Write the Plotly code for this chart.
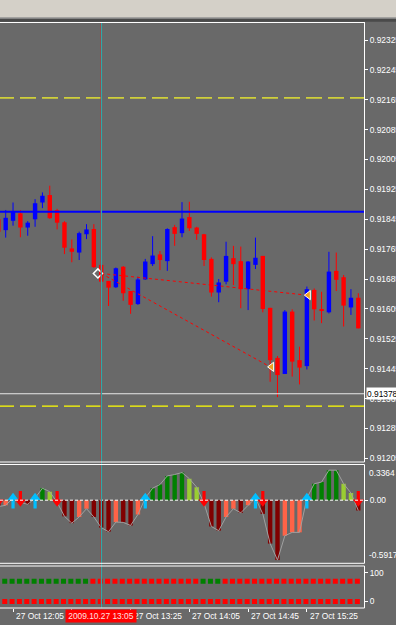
import plotly.graph_objects as go

W, H = 396, 625
BG = "#696969"
FONT = "Liberation Sans, Arial, sans-serif"

# ---------------- data ----------------
times = ["11:55", "12:00", "12:05", "12:10", "12:15", "12:20", "12:25", "12:30", "12:35", "12:40",
         "12:45", "12:50", "12:55", "13:00", "13:05", "13:10", "13:15", "13:20", "13:25", "13:30",
         "13:35", "13:40", "13:45", "13:50", "13:55", "14:00", "14:05", "14:10", "14:15", "14:20",
         "14:25", "14:30", "14:35", "14:40", "14:45", "14:50", "14:55", "15:00", "15:05", "15:10",
         "15:15", "15:20", "15:25", "15:30", "15:35", "15:40", "15:45", "15:50", "15:55", "16:00"]

opens = [0.91845, 0.91816, 0.91841, 0.91861, 0.91823, 0.91845, 0.91890, 0.91910, 0.91870, 0.91837,
         0.91767, 0.91756, 0.91805, 0.91819, 0.91723, 0.91680, 0.91663, 0.91718, 0.91653, 0.91618,
         0.91684, 0.91725, 0.91751, 0.91733, 0.91824, 0.91808, 0.91851, 0.91823, 0.91805, 0.91739,
         0.91649, 0.91678, 0.91741, 0.91733, 0.91658, 0.91723, 0.91747, 0.91608, 0.91474, 0.91431,
         0.91598, 0.91468, 0.91452, 0.91656, 0.91602, 0.91596, 0.91707, 0.91690, 0.91609, 0.91635]
highs = [0.91849, 0.91870, 0.91890, 0.91870, 0.91840, 0.91899, 0.91917, 0.91935, 0.91873, 0.91840,
         0.91791, 0.91812, 0.91832, 0.91832, 0.91723, 0.91680, 0.91716, 0.91720, 0.91653, 0.91691,
         0.91739, 0.91800, 0.91760, 0.91821, 0.91830, 0.91891, 0.91892, 0.91825, 0.91806, 0.91743,
         0.91685, 0.91785, 0.91774, 0.91772, 0.91733, 0.91796, 0.91747, 0.91608, 0.91479, 0.91602,
         0.91604, 0.91504, 0.91665, 0.91660, 0.91651, 0.91758, 0.91756, 0.91696, 0.91658, 0.91647]
lows = [0.91808, 0.91796, 0.91828, 0.91797, 0.91801, 0.91825, 0.91875, 0.91846, 0.91818, 0.91752,
        0.91730, 0.91736, 0.91792, 0.91715, 0.91678, 0.91613, 0.91661, 0.91627, 0.91592, 0.91616,
        0.91683, 0.91720, 0.91709, 0.91707, 0.91774, 0.91797, 0.91814, 0.91790, 0.91720, 0.91638,
        0.91623, 0.91671, 0.91669, 0.91607, 0.91602, 0.91712, 0.91596, 0.91410, 0.91369, 0.91431,
        0.91424, 0.91403, 0.91443, 0.91574, 0.91567, 0.91593, 0.91653, 0.91558, 0.91589, 0.91553]
closes = [0.91812, 0.91849, 0.91865, 0.91823, 0.91836, 0.91888, 0.91908, 0.91848, 0.91836, 0.91769,
          0.91758, 0.91808, 0.91818, 0.91717, 0.91678, 0.91662, 0.91714, 0.91647, 0.91616, 0.91684,
          0.91732, 0.91748, 0.91736, 0.91819, 0.91806, 0.91847, 0.91821, 0.91806, 0.91736, 0.91649,
          0.91676, 0.91747, 0.91725, 0.91658, 0.91732, 0.91742, 0.91605, 0.91468, 0.91428, 0.91598,
          0.91464, 0.91448, 0.91658, 0.91604, 0.91601, 0.91705, 0.91683, 0.91614, 0.91635, 0.91553]

hist_vals = [-0.060, -0.048, 0.020, -0.020, -0.039, 0.020, 0.113, 0.080, -0.020, -0.152,
             -0.216, -0.158, -0.080, -0.158, -0.258, -0.297, -0.206, -0.209, -0.238, -0.135,
             0.020, 0.113, 0.148, 0.229, 0.242, 0.261, 0.203, 0.123, -0.030, -0.248,
             -0.287, -0.158, -0.080, -0.119, -0.048, 0.020, -0.129, -0.409, -0.564, -0.335,
             -0.303, -0.303, 0.020, 0.155, 0.171, 0.283, 0.283, 0.155, 0.068, -0.097]
hist_state = list("MTGMMGGYMM" "MTTMMMTMMT" "GGGGGGYYMM" "MTTMTGMMMT" "TTGGGGGYYM")
hist_max, hist_min = 0.3364, -0.5917

arrows_up = ["12:05", "12:20", "13:35", "14:50", "15:25"]
arrows_down = ["11:55", "12:10", "12:35", "14:15", "14:55", "16:00"]

sig_top_state = list("G" * 13 + "R" * 15 + "G" * 3 + "R" * 19)
sig_bot_state = list("R" * 50)
sig_top_level, sig_bot_level = 70, 0

price_ticks = [0.92325, 0.92245, 0.92165, 0.92085, 0.92005, 0.91925, 0.91845, 0.91765,
               0.91685, 0.91605, 0.91525, 0.91445, 0.91365, 0.91285, 0.91205]
time_ticks = ["12:05", "12:45", "13:25", "14:05", "14:45", "15:25"]
date_prefix = "27 Oct "

level_yellow = [0.92170, 0.91345]
level_blue = 0.91865
level_white = 0.91378
vline_time = "13:05"
vline_label = "2009.10.27 13:05"

div_start = ("13:05", 0.91700)
div_ends = [("15:25", 0.91642), ("15:00", 0.91450)]

# ---------------- layout geometry (pixels) ----------------
PLOT_R = 364
MAIN = (22, 462)
HIST = (464.5, 563)
SIG = (566, 607.7)
x_range = [0.2246, 49.776]
main_range = [0.911953, 0.923732]
sig_range = [-21.7, 123.1]

pos = {t: i for i, t in enumerate(times)}
xs_all = [pos[t] for t in times]


def fx(px):
    return px / W


def fy(py):
    return 1 - py / H


hist_unit = (hist_max - hist_min) / (HIST[1] - HIST[0])  # value per pixel
main_unit = (main_range[1] - main_range[0]) / (MAIN[1] - MAIN[0])

fig = go.Figure()

# ---------- candles ----------
bull = [c > o for o, c in zip(opens, closes)]
for sel, col in ((True, "#0000FF"), (False, "#FF0000")):
    xs, ys = [], []
    for x, h, l, b in zip(xs_all, highs, lows, bull):
        if b == sel:
            xs += [x, x, None]
            ys += [l, h, None]
    fig.add_trace(go.Scatter(x=xs, y=ys, mode="lines", line=dict(color=col, width=1),
                             hoverinfo="skip", xaxis="x", yaxis="y"))

min_body = main_unit * 1.0
fig.add_trace(go.Bar(
    x=xs_all,
    base=[min(o, c) for o, c in zip(opens, closes)],
    y=[max(abs(c - o), min_body) for o, c in zip(opens, closes)],
    width=0.6,
    marker=dict(color=["#0000FF" if b else "#FF0000" for b in bull], line=dict(width=0)),
    xaxis="x", yaxis="y", hoverinfo="skip"))

# divergence lines
for t_end, p_end in div_ends:
    fig.add_trace(go.Scatter(x=[pos[div_start[0]], pos[t_end]], y=[div_start[1], p_end], mode="lines",
                             line=dict(color="#FF0000", width=1, dash="3px,3px"),
                             xaxis="x", yaxis="y", hoverinfo="skip"))
fig.add_trace(go.Scatter(x=[pos[div_start[0]] - 0.45], y=[div_start[1]], mode="markers",
                         marker=dict(symbol="diamond-open", size=7, color="white",
                                     line=dict(color="white", width=1.5)),
                         xaxis="x", yaxis="y", hoverinfo="skip"))
fig.add_trace(go.Scatter(x=[pos[t] + 0.2 for t, _ in div_ends], y=[p for _, p in div_ends],
                         mode="markers",
                         marker=dict(symbol="triangle-left", size=8, color="#F0A020",
                                     line=dict(color="white", width=1)),
                         xaxis="x", yaxis="y", hoverinfo="skip"))

# ---------- histogram ----------
cmap = {"G": "#008000", "Y": "#9ACD32", "M": "#800000", "T": "#FF6347"}
fig.add_trace(go.Bar(x=xs_all, y=hist_vals, width=0.6,
                     marker=dict(color=[cmap[s] for s in hist_state], line=dict(width=0)),
                     xaxis="x", yaxis="y2", hoverinfo="skip"))
fig.add_trace(go.Scatter(x=xs_all, y=hist_vals, mode="lines",
                         line=dict(color="#A0A0A0", width=1),
                         xaxis="x", yaxis="y2", hoverinfo="skip"))

# arrows (head + shaft), offsets in pixels around the zero line
up_x = [pos[t] for t in arrows_up]
dn_x = [pos[t] for t in arrows_down]
fig.add_trace(go.Scatter(x=up_x, y=[-3.0 * hist_unit] * len(up_x), mode="markers",
                         marker=dict(symbol="line-ns", size=7.5, line=dict(color="#00BFFF", width=3.2)),
                         xaxis="x", yaxis="y2", hoverinfo="skip"))
fig.add_trace(go.Scatter(x=up_x, y=[2.6 * hist_unit] * len(up_x), mode="markers",
                         marker=dict(symbol="triangle-up", size=9.5, color="#00BFFF", line=dict(width=0)),
                         xaxis="x", yaxis="y2", hoverinfo="skip"))
fig.add_trace(go.Scatter(x=dn_x, y=[4.0 * hist_unit] * len(dn_x), mode="markers",
                         marker=dict(symbol="line-ns", size=7.5, line=dict(color="#FF0000", width=3.2)),
                         xaxis="x", yaxis="y2", hoverinfo="skip"))
fig.add_trace(go.Scatter(x=dn_x, y=[-1.8 * hist_unit] * len(dn_x), mode="markers",
                         marker=dict(symbol="triangle-down", size=9.5, color="#FF0000", line=dict(width=0)),
                         xaxis="x", yaxis="y2", hoverinfo="skip"))

# ---------- signal squares ----------
smap = {"G": "#008000", "R": "#FF0000"}
for level, states in ((sig_top_level, sig_top_state), (sig_bot_level, sig_bot_state)):
    fig.add_trace(go.Scatter(x=[x - 0.13 for x in xs_all], y=[level] * len(xs_all),
                             mode="markers",
                             marker=dict(symbol="square", size=5, color=[smap[s] for s in states],
                                         line=dict(width=0)),
                             xaxis="x", yaxis="y3", hoverinfo="skip"))

# ---------- shapes ----------
shapes = []


def prect(x0, x1, y0, y1, color):
    shapes.append(dict(type="rect", xref="paper", yref="paper", x0=fx(x0), x1=fx(x1),
                       y0=fy(y1), y1=fy(y0), fillcolor=color, line=dict(width=0), layer="above"))


def hline_px(y, x0, x1, color="white", width=1):
    shapes.append(dict(type="line", xref="paper", yref="paper", x0=fx(x0), x1=fx(x1),
                       y0=fy(y), y1=fy(y), line=dict(color=color, width=width), layer="above"))


def vline_px(x, y0, y1, color="white", width=1):
    shapes.append(dict(type="line", xref="paper", yref="paper", x0=fx(x), x1=fx(x),
                       y0=fy(y0), y1=fy(y1), line=dict(color=color, width=width), layer="above"))


# horizontal level objects in the main window
shapes.append(dict(type="line", xref="paper", yref="y", x0=fx(-2), x1=fx(PLOT_R), y0=level_yellow[0],
                   y1=level_yellow[0], line=dict(color="#CFCF3A", width=1.6, dash="16px,6px"), layer="above"))
shapes.append(dict(type="line", xref="paper", yref="y", x0=fx(-2), x1=fx(PLOT_R), y0=level_yellow[1],
                   y1=level_yellow[1], line=dict(color="#FFFF00", width=1.2, dash="16px,6px"), layer="above"))
shapes.append(dict(type="line", xref="paper", yref="y", x0=0, x1=fx(PLOT_R), y0=level_blue,
                   y1=level_blue, line=dict(color="#0000FF", width=2), layer="above"))
shapes.append(dict(type="line", xref="paper", yref="y", x0=0, x1=fx(PLOT_R), y0=level_white,
                   y1=level_white, line=dict(color="#E8E8E8", width=1), layer="above"))
# zero line of the histogram window
shapes.append(dict(type="line", xref="paper", yref="y2", x0=0, x1=fx(PLOT_R), y0=0, y1=0,
                   line=dict(color="white", width=1, dash="3px,2px"), layer="above"))
# vertical line object (teal, with a thin red core)
vi = pos[vline_time]
shapes.append(dict(type="line", xref="x", yref="paper", x0=vi + 0.03, x1=vi + 0.03,
                   y0=fy(SIG[1]), y1=fy(MAIN[0]), line=dict(color="#1FB8B8", width=1.3), layer="above"))
shapes.append(dict(type="line", xref="x", yref="paper", x0=vi - 0.07, x1=vi - 0.07,
                   y0=fy(SIG[1]), y1=fy(MAIN[0]), line=dict(color="#D02020", width=0.6), layer="above"))

# window chrome
prect(0, W, 0, 17.4, "#D4D0C8")
prect(0, W, 17.4, 18.7, "#A8A8A8")
prect(0, W, 18.7, 21.7, "#4A4A4A")
hline_px(22.5, 0, PLOT_R + 0.5)
hline_px(MAIN[1], 0, PLOT_R + 0.5)
hline_px(HIST[0], 0, PLOT_R + 0.5)
hline_px(HIST[1] + 0.3, 0, PLOT_R + 0.5)
hline_px(SIG[0], 0, PLOT_R + 0.5)
hline_px(SIG[1] + 0.3, 0, PLOT_R + 0.5)
vline_px(PLOT_R + 0.5, 22, MAIN[1])
vline_px(PLOT_R + 0.5, HIST[0], HIST[1] + 0.3)
vline_px(PLOT_R + 0.5, SIG[0], SIG[1] + 0.3)

# ---------- annotations ----------
ann = []
lab_font = dict(family=FONT, size=8.4, color="white")
for t in time_ticks:
    ann.append(dict(x=pos[t], xref="x", y=fy(616), yref="paper", text=date_prefix + t, showarrow=False,
                    xanchor="left", yanchor="middle", xshift=1, font=lab_font))
ann.append(dict(x=pos[vline_time], xref="x", y=fy(616), yref="paper", text=vline_label, showarrow=False,
                xanchor="center", yanchor="middle", width=70, height=12, borderpad=0,
                bgcolor="#FF0000", font=dict(family=FONT, size=8.4, color="#FFE0E0")))
ann.append(dict(x=fx(366), xref="paper", y=level_white, yref="y", text="0.91378", showarrow=False,
                xanchor="left", yanchor="middle", width=34, height=11, borderpad=0, align="left",
                bgcolor="white", font=dict(family=FONT, size=8.4, color="black")))
ann.append(dict(x=fx(367), xref="paper", y=hist_max, yref="y2", text=f"{hist_max:.4f}", showarrow=False,
                xanchor="left", yanchor="top", yshift=-1, font=lab_font))
ann.append(dict(x=fx(367), xref="paper", y=hist_min, yref="y2", text=f"{hist_min:.4f}", showarrow=False,
                xanchor="left", yanchor="bottom", yshift=1, font=lab_font))

axis_common = dict(showgrid=False, zeroline=False, showline=False, automargin=False, fixedrange=True)

fig.update_layout(
    width=W, height=H, margin=dict(l=0, r=0, t=0, b=0, pad=0),
    paper_bgcolor=BG, plot_bgcolor=BG, showlegend=False, barmode="overlay",
    template="none", font=dict(family=FONT, size=8.4, color="white"),
    shapes=shapes, annotations=ann,
    xaxis=dict(domain=[0, fx(PLOT_R)], range=x_range, type="linear", anchor="y3",
               ticks="outside", ticklen=3, tickcolor="white", tickwidth=1,
               tickvals=[pos[t] for t in time_ticks], showticklabels=False, **axis_common),
    yaxis=dict(domain=[fy(MAIN[1]), fy(MAIN[0])], range=main_range, anchor="x", side="right",
               ticks="outside", ticklen=3, tickcolor="white", tickvals=price_ticks,
               ticktext=[f"{v:.5f}" for v in price_ticks], tickfont=lab_font, **axis_common),
    yaxis2=dict(domain=[fy(HIST[1]), fy(HIST[0])], range=[hist_min, hist_max], anchor="x", side="right",
                ticks="outside", ticklen=3, tickcolor="white", tickvals=[0],
                ticktext=["0.00"], tickfont=lab_font, **axis_common),
    yaxis3=dict(domain=[fy(SIG[1]), fy(SIG[0])], range=sig_range, anchor="x", side="right",
                ticks="outside", ticklen=3, tickcolor="white", tickvals=[100, 0],
                ticktext=["100", "0"], tickfont=lab_font, **axis_common),
)

fig.write_html("out.html")
